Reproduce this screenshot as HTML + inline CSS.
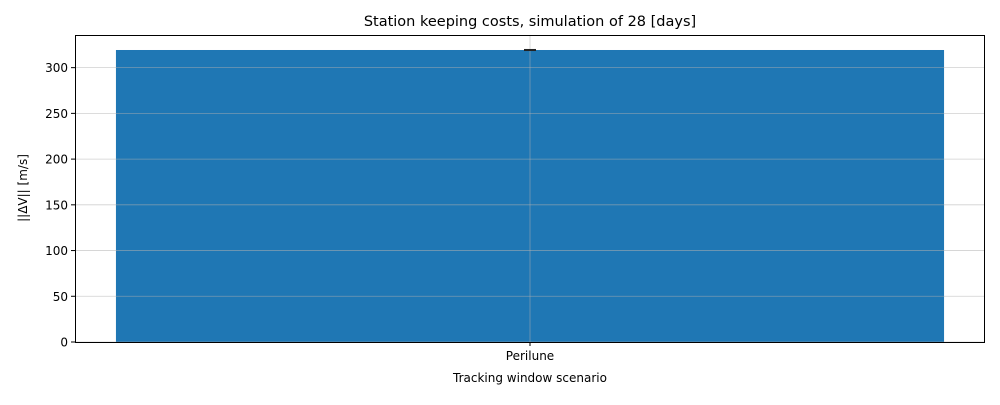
<!DOCTYPE html>
<html><head><meta charset="utf-8"><style>
body{margin:0;background:#fff;font-family:"Liberation Sans","DejaVu Sans",sans-serif;}
</style></head><body>
<svg id="chart" width="1000" height="400" font-family="DejaVu Sans, Liberation Sans, sans-serif">
<text x="530" y="26" text-anchor="middle" font-size="14.5">Station keeping costs, simulation of 28 [days]</text>
<g id="plot"></g>
<text x="530" y="382" text-anchor="middle" font-size="12">Tracking window scenario</text>
<text transform="translate(27,188) rotate(-90)" text-anchor="middle" font-size="12">||ΔV|| [m/s]</text>
</svg>
<script>
const categories=["Perilune"];
const values=[319.3];
const errors=[0.3];
const yTicks=[0,50,100,150,200,250,300];
const L=75,R=985,T=35,B=342,yMax=335.7;
const NS="http://www.w3.org/2000/svg";
const g=document.getElementById('plot');
function y(v){return B-(v/yMax)*(B-T);}
function x(i){const w=(R-L)/categories.length;return L+w*(i+0.5);}
function mk(t,a){const e=document.createElementNS(NS,t);for(const k in a)e.setAttribute(k,a[k]);g.appendChild(e);return e;}
const bw=(R-L)/categories.length*0.91;
categories.forEach((c,i)=>{
 const r=mk('rect',{x:x(i)-bw/2,y:y(values[i]),width:bw,height:B-y(values[i]),fill:'#1f77b4'});
 
 
});
yTicks.forEach(v=>{
 const l=mk('line',{x1:L,x2:R,y1:y(v),y2:y(v),stroke:'#b0b0b0','stroke-opacity':0.6,'stroke-width':0.8});
 
 
 mk('line',{x1:L-4,x2:L,y1:y(v),y2:y(v),stroke:'#000','stroke-width':1});
 const t=mk('text',{x:L-7,y:y(v)+4.5,'text-anchor':'end','font-size':12});
 t.textContent=v;
 
 
});
categories.forEach((c,i)=>{
 const l=mk('line',{x1:x(i),x2:x(i),y1:T,y2:B,stroke:'#b0b0b0','stroke-opacity':0.6,'stroke-width':0.8});
 
 
 mk('line',{x1:x(i),x2:x(i),y1:B,y2:B+4,stroke:'#000','stroke-width':1});
 const e=mk('line',{x1:x(i),x2:x(i),y1:y(values[i]+errors[i]),y2:y(values[i]-errors[i]),stroke:'#222','stroke-width':1.2});
 
 
 mk('line',{x1:x(i)-6,x2:x(i)+6,y1:y(values[i]+errors[i]),y2:y(values[i]+errors[i]),stroke:'#222','stroke-width':1.5});
 mk('line',{x1:x(i)-6,x2:x(i)+6,y1:y(values[i]-errors[i]),y2:y(values[i]-errors[i]),stroke:'#222','stroke-width':1.5});
 const t=mk('text',{x:x(i),y:B+18,'text-anchor':'middle','font-size':12});
 t.textContent=c;
 
 
});
const f=mk('rect',{x:L+0.5,y:T+0.5,width:R-L-1,height:B-T,fill:'none',stroke:'#000','stroke-width':1});


</script>
</body></html>
